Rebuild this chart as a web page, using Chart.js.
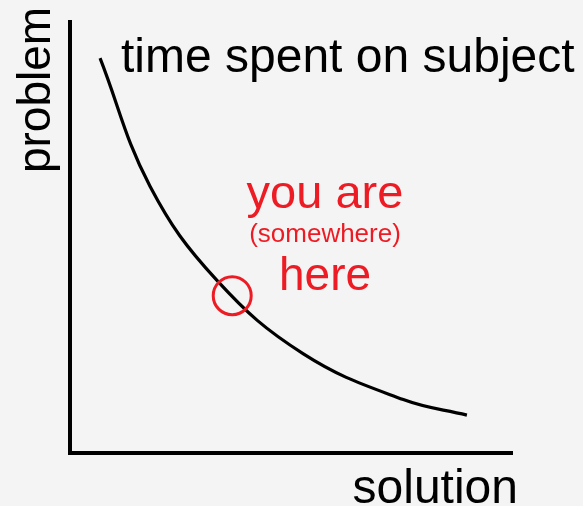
<!DOCTYPE html>
<html>
<head>
<meta charset="utf-8">
<title>you are here</title>
<script src="https://cdn.jsdelivr.net/npm/chart.js@4/dist/chart.umd.min.js"></script>
<style>
  html, body { margin: 0; padding: 0; background: #f4f4f4; }
  #wrap { width: 583px; height: 506px; position: relative; }
</style>
</head>
<body>
<div id="wrap"><canvas id="curveChart"></canvas></div>
<script>
// Values (0..100 on both axes)
const solution = [6.8, 18.1, 33.2, 52.8, 75.4, 89.8];
const problem = [91.6, 61.9, 40.1, 23.0, 12.4, 8.8];
const markerX = [36.7];
const markerY = [36.5];

const curveLabel = 'time spent on subject';
const xTitle = 'solution';
const yTitle = 'problem';
const noteLines = ['you are', '(somewhere)', 'here'];

const RED = '#ed1c24';
const FONT = "'Liberation Sans', Arial, sans-serif";

// Build {x, y} points from the arrays
function toPoints(xs, ys) {
    return xs.map((x, i) => ({ x: x, y: ys[i] }));
}

// Draw the labels that sit around the curve
const labelsPlugin = {
    id: 'labels',
    afterDraw(chart) {
        const ctx = chart.ctx;
        ctx.save();
        ctx.textBaseline = 'alphabetic';

        ctx.fillStyle = '#000';
        ctx.font = '48px ' + FONT;
        ctx.textAlign = 'left';
        ctx.fillText(curveLabel, 121, 72);

        ctx.textAlign = 'right';
        ctx.fillText(xTitle, 518, 503);

        ctx.save();
        ctx.translate(50, 90);
        ctx.rotate(-Math.PI / 2);
        ctx.textAlign = 'center';
        ctx.font = '46px ' + FONT;
        ctx.fillText(yTitle, 0, 0);
        ctx.restore();

        ctx.fillStyle = RED;
        ctx.textAlign = 'center';
        ctx.font = '47px ' + FONT;
        ctx.fillText(noteLines[0], 325, 208);
        ctx.font = '26px ' + FONT;
        ctx.fillText(noteLines[1], 325, 242);
        ctx.font = '46px ' + FONT;
        ctx.fillText(noteLines[2], 325, 290);

        ctx.restore();
    }
};

const ctx = document.getElementById('curveChart').getContext('2d');
new Chart(ctx, {
    type: 'line',
    data: {
        datasets: [{
            label: curveLabel,
            data: toPoints(solution, problem),
            borderColor: '#000',
            borderWidth: 3.2,
            pointRadius: 0,
            fill: false,
            tension: 0.4,
            order: 2
        }, {
            label: 'you are here',
            data: toPoints(markerX, markerY),
            showLine: false,
            pointRadius: 19,
            pointHoverRadius: 19,
            pointBorderWidth: 3,
            pointBorderColor: RED,
            pointBackgroundColor: 'rgba(0,0,0,0)',
            order: 1
        }]
    },
    options: {
        responsive: true,
        maintainAspectRatio: false,
        animation: false,
        events: [],
        layout: {
            padding: { left: 70, top: 12, right: 71, bottom: 53 }
        },
        plugins: {
            legend: { display: false },
            tooltip: { enabled: false }
        },
        scales: {
            x: {
                type: 'linear',
                min: 0,
                max: 100,
                ticks: { display: false },
                grid: { display: false, drawTicks: false },
                border: { display: true, color: '#000', width: 4 }
            },
            y: {
                type: 'linear',
                min: 0,
                max: 100,
                ticks: { display: false },
                grid: { display: false, drawTicks: false },
                border: { display: true, color: '#000', width: 4 }
            }
        }
    },
    plugins: [labelsPlugin]
});
</script>
</body>
</html>
